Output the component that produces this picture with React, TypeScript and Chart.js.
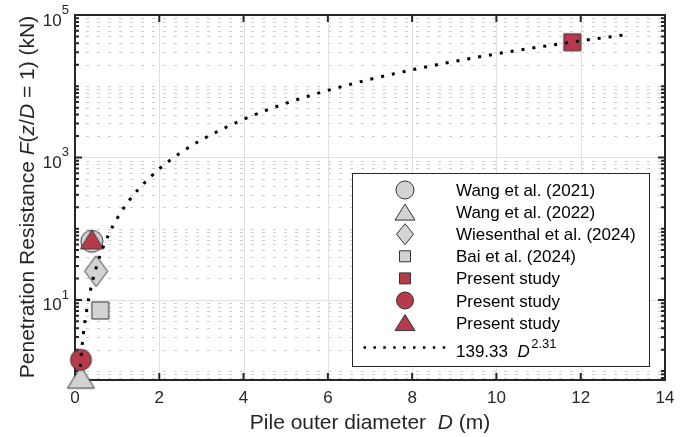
import React, { useEffect, useRef } from 'react';
import { Chart, registerables } from 'chart.js';
Chart.register(...registerables);

const FONT = '"Liberation Sans", Arial, Helvetica, sans-serif';
const INK = '#262626';
const RED = '#b73a4a';
const GRAY = '#d3d3d3';
const EDGE = '#333333';

// ---- data ----
const xTickValues = [0, 2, 4, 6, 8, 10, 12, 14];
const yMajorTicks = [1e1, 1e3, 1e5];
const yTickExponents = ['1', '3', '5'];

const legendLabels = [
  'Wang et al. (2021)',
  'Wang et al. (2022)',
  'Wiesenthal et al. (2024)',
  'Bai et al. (2024)',
  'Present study',
  'Present study',
  'Present study',
];

const wang2021D = [0.4];
const wang2021F = [66.5];
const wang2022D = [0.14];
const wang2022F = [0.82];
const wiesenthalD = [0.5];
const wiesenthalF = [25.3];
const baiD = [0.6];
const baiF = [7.1];
const presentSquareD = [11.8];
const presentSquareF = [41400];
const presentCircleD = [0.142];
const presentCircleF = [1.44];
const presentTriangleD = [0.4];
const presentTriangleF = [70.6];

const fitD = [0.125, 0.15, 0.2, 0.25, 0.3, 0.4, 0.5, 0.6, 0.7, 0.8, 1, 1.25, 1.5, 2, 2.5, 3, 4, 5, 6, 7, 8, 9, 10, 11, 12, 13];
const fitF = [1.143, 1.741, 3.384, 5.666, 8.634, 16.78, 28.1, 42.81, 61.12, 83.23, 139.3, 233.3, 355.4, 690.9, 1157, 1763, 3426, 5737, 8741, 12481, 16991, 22304, 28450, 35448, 43353, 52147];
const fitCoef = '139.33';
const fitExp = '2.31';

type Shape = 'circle' | 'triangle' | 'diamond' | 'square';
interface MarkerSpec { shape: Shape; fill: string; w: number; h: number; lw: number; lh: number; }

const markerSpecs: MarkerSpec[] = [
  { shape: 'circle', fill: GRAY, w: 22, h: 22, lw: 18, lh: 18 },
  { shape: 'triangle', fill: GRAY, w: 27, h: 22, lw: 20, lh: 16 },
  { shape: 'diamond', fill: GRAY, w: 23, h: 31, lw: 17, lh: 21 },
  { shape: 'square', fill: GRAY, w: 17, h: 17, lw: 11, lh: 11 },
  { shape: 'square', fill: RED, w: 17, h: 17, lw: 11, lh: 11 },
  { shape: 'circle', fill: RED, w: 21, h: 21, lw: 17, lh: 17 },
  { shape: 'triangle', fill: RED, w: 23, h: 19, lw: 20, lh: 16 },
];

function drawMarker(ctx: CanvasRenderingContext2D, m: MarkerSpec, cx: number, cy: number, w: number, h: number) {
  ctx.beginPath();
  if (m.shape === 'circle') ctx.ellipse(cx, cy, w / 2, h / 2, 0, 0, Math.PI * 2);
  else if (m.shape === 'square') ctx.rect(cx - w / 2, cy - h / 2, w, h);
  else if (m.shape === 'triangle') {
    ctx.moveTo(cx, cy - h / 2);
    ctx.lineTo(cx + w / 2, cy + h / 2);
    ctx.lineTo(cx - w / 2, cy + h / 2);
    ctx.closePath();
  } else {
    ctx.moveTo(cx, cy - h / 2);
    ctx.lineTo(cx + w / 2, cy);
    ctx.lineTo(cx, cy + h / 2);
    ctx.lineTo(cx - w / 2, cy);
    ctx.closePath();
  }
  ctx.fillStyle = m.fill;
  ctx.fill();
  ctx.lineWidth = 1;
  ctx.strokeStyle = EDGE;
  ctx.stroke();
}

function markerCanvas(m: MarkerSpec) {
  const c = document.createElement('canvas');
  c.width = Math.ceil(m.w + 4);
  c.height = Math.ceil(m.h + 4);
  const g = c.getContext('2d')!;
  drawMarker(g, m, c.width / 2, c.height / 2, m.w, m.h);
  return c;
}

type Seg = { t: string; it?: boolean };
function drawSegs(ctx: CanvasRenderingContext2D, segs: Seg[], size: number, x: number, y: number, align: 'center' | 'left') {
  const widths = segs.map((s) => {
    ctx.font = `${s.it ? 'italic ' : ''}${size}px ${FONT}`;
    return ctx.measureText(s.t).width;
  });
  const total = widths.reduce((a, b) => a + b, 0);
  let cx = align === 'center' ? x - total / 2 : x;
  ctx.textAlign = 'left';
  ctx.textBaseline = 'alphabetic';
  segs.forEach((s, i) => {
    ctx.font = `${s.it ? 'italic ' : ''}${size}px ${FONT}`;
    ctx.fillText(s.t, cx, y);
    cx += widths[i];
  });
  return cx;
}

const decorPlugin = {
  id: 'decor',
  beforeDatasetsDraw(chart: any) {
    const { ctx, chartArea: a } = chart;
    const x = chart.scales.x;
    const y = chart.scales.y;
    ctx.save();
    // minor grid
    ctx.strokeStyle = '#cdcdcd';
    ctx.lineWidth = 1;
    ctx.setLineDash([3, 8]);
    const minorVals: number[] = [];
    for (let e = -1; e <= 4; e++) {
      for (let k = 1; k <= 9; k++) {
        const v = k * Math.pow(10, e);
        if (v < y.min - 1e-9 || v > y.max) continue;
        if (k === 1 && (e === 1 || e === 3)) continue;
        minorVals.push(v);
      }
    }
    minorVals.forEach((v) => {
      const py = Math.round(y.getPixelForValue(v)) + 0.5;
      ctx.beginPath();
      ctx.moveTo(a.left, py);
      ctx.lineTo(a.right, py);
      ctx.stroke();
    });
    ctx.setLineDash([]);
    // major grid
    ctx.strokeStyle = '#dfdfdf';
    xTickValues.slice(1, -1).forEach((v) => {
      const px = Math.round(x.getPixelForValue(v)) + 0.5;
      ctx.beginPath();
      ctx.moveTo(px, a.top);
      ctx.lineTo(px, a.bottom);
      ctx.stroke();
    });
    yMajorTicks.slice(0, -1).forEach((v) => {
      const py = Math.round(y.getPixelForValue(v)) + 0.5;
      ctx.beginPath();
      ctx.moveTo(a.left, py);
      ctx.lineTo(a.right, py);
      ctx.stroke();
    });
    // frame
    ctx.strokeStyle = INK;
    ctx.lineWidth = 2;
    ctx.strokeRect(a.left, a.top, a.right - a.left, a.bottom - a.top);
    // x ticks (inward, bottom and top)
    xTickValues.forEach((v) => {
      const px = x.getPixelForValue(v);
      ctx.beginPath();
      ctx.moveTo(px, a.bottom);
      ctx.lineTo(px, a.bottom - 7);
      ctx.moveTo(px, a.top);
      ctx.lineTo(px, a.top + 7);
      ctx.stroke();
    });
    // y ticks
    const yTickDraw = (v: number, len: number) => {
      const py = y.getPixelForValue(v);
      ctx.beginPath();
      ctx.moveTo(a.left, py);
      ctx.lineTo(a.left + len, py);
      ctx.moveTo(a.right, py);
      ctx.lineTo(a.right - len, py);
      ctx.stroke();
    };
    minorVals.forEach((v) => yTickDraw(v, 4));
    yMajorTicks.forEach((v) => yTickDraw(v, 7));
    ctx.restore();
  },
  afterDraw(chart: any) {
    const { ctx, chartArea: a } = chart;
    const y = chart.scales.y;
    ctx.save();
    ctx.fillStyle = INK;
    // y tick labels 10^n
    yMajorTicks.forEach((v, i) => {
      const py = y.getPixelForValue(v);
      const exp = yTickExponents[i];
      ctx.font = `13px ${FONT}`;
      const sw = ctx.measureText(exp).width;
      ctx.font = `17px ${FONT}`;
      const bw = ctx.measureText('10').width;
      const R = 69;
      ctx.textAlign = 'left';
      ctx.textBaseline = 'alphabetic';
      ctx.fillText('10', R - sw - bw, py + 10.5);
      ctx.font = `13px ${FONT}`;
      ctx.fillText(exp, R - sw, py - 1.2);
    });
    // x title
    drawSegs(ctx, [{ t: 'Pile outer diameter  ' }, { t: 'D', it: true }, { t: ' (m)' }], 21, (a.left + a.right) / 2, 428.5, 'center');
    // y title
    ctx.save();
    ctx.translate(33.5, 197);
    ctx.rotate(-Math.PI / 2);
    drawSegs(
      ctx,
      [
        { t: 'Penetration Resistance ' },
        { t: 'F', it: true },
        { t: '(' },
        { t: 'z', it: true },
        { t: '/' },
        { t: 'D', it: true },
        { t: ' = 1) (kN)' },
      ],
      21,
      0,
      0,
      'center'
    );
    ctx.restore();
    // legend
    const L = 352.5, R = 649.5, T = 173.5, B = 366.5;
    ctx.fillStyle = '#ffffff';
    ctx.fillRect(L, T, R - L, B - T);
    ctx.strokeStyle = INK;
    ctx.lineWidth = 1;
    ctx.strokeRect(L, T, R - L, B - T);
    const mx = 405, tx = 456;
    legendLabels.forEach((label, i) => {
      const cy = 190 + i * 22.1;
      const m = markerSpecs[i];
      drawMarker(ctx, m, mx, cy, m.lw, m.lh);
      ctx.fillStyle = '#000';
      ctx.font = `17px ${FONT}`;
      ctx.textAlign = 'left';
      ctx.textBaseline = 'alphabetic';
      ctx.fillText(label, tx, cy + 6);
    });
    // fit entry
    ctx.strokeStyle = '#000';
    ctx.lineWidth = 2.5;
    ctx.setLineDash([2.5, 7.4]);
    ctx.beginPath();
    ctx.moveTo(363.5, 347.5);
    ctx.lineTo(446, 347.5);
    ctx.stroke();
    ctx.setLineDash([]);
    ctx.fillStyle = '#000';
    const end = drawSegs(ctx, [{ t: fitCoef + '  ' }, { t: 'D', it: true }], 17, tx, 357.3, 'left');
    ctx.font = `13px ${FONT}`;
    ctx.fillText(fitExp, end + 1.5, 348.3);
    ctx.restore();
  },
};

const pts = (xs: number[], ys: number[]) => xs.map((v, i) => ({ x: v, y: ys[i] }));

export default function App() {
  const ref = useRef<HTMLCanvasElement>(null);
  useEffect(() => {
    const canvas = ref.current!;
    const series = [
      { label: legendLabels[0], data: pts(wang2021D, wang2021F) },
      { label: legendLabels[1], data: pts(wang2022D, wang2022F) },
      { label: legendLabels[2], data: pts(wiesenthalD, wiesenthalF) },
      { label: legendLabels[3], data: pts(baiD, baiF) },
      { label: legendLabels[4], data: pts(presentSquareD, presentSquareF) },
      { label: legendLabels[5], data: pts(presentCircleD, presentCircleF) },
      { label: legendLabels[6], data: pts(presentTriangleD, presentTriangleF) },
    ];
    const markerSets = series.map((s, i) => ({
      label: s.label,
      data: s.data,
      pointStyle: markerCanvas(markerSpecs[i]),
      pointRadius: 12,
      pointHoverRadius: 12,
      showLine: false,
      clip: false,
      order: 7 - i,
    }));
    const fitSet = {
      label: `${fitCoef} D^${fitExp}`,
      data: pts(fitD, fitF),
      showLine: true,
      pointRadius: 0,
      borderColor: '#000000',
      borderWidth: 3,
      borderDash: [3, 8],
      borderCapStyle: 'butt',
      cubicInterpolationMode: 'monotone',
      fill: false,
      clip: false,
      order: 0,
    };
    const chart = new Chart(canvas, {
      type: 'scatter',
      data: { datasets: [...markerSets, fitSet] as any },
      options: {
        animation: false,
        responsive: false,
        devicePixelRatio: 1,
        layout: { padding: { top: 15, right: 26, bottom: 0, left: 0 } },
        plugins: { legend: { display: false }, tooltip: { enabled: false } },
        events: [],
        scales: {
          x: {
            type: 'linear',
            min: 0,
            max: 14,
            grid: { display: false, drawTicks: false },
            border: { display: false },
            ticks: {
              stepSize: 2,
              color: INK,
              padding: 8,
              font: { family: FONT, size: 17 },
            },
            afterFit: (s: any) => {
              s.height = 57;
              s.paddingLeft = 0;
              s.paddingRight = 0;
            },
          },
          y: {
            type: 'logarithmic',
            min: 0.75,
            max: 100000,
            grid: { display: false, drawTicks: false },
            border: { display: false },
            ticks: { display: false },
            afterFit: (s: any) => {
              s.width = 75;
              s.paddingTop = 0;
              s.paddingBottom = 0;
            },
          },
        },
      } as any,
      plugins: [decorPlugin],
    });
    return () => chart.destroy();
  }, []);
  return (
    <div style={{ position: 'absolute', left: 0, top: 0, width: 691, height: 437, background: '#fff' }}>
      <canvas ref={ref} width={691} height={437} style={{ display: 'block', width: 691, height: 437 }} />
    </div>
  );
}
